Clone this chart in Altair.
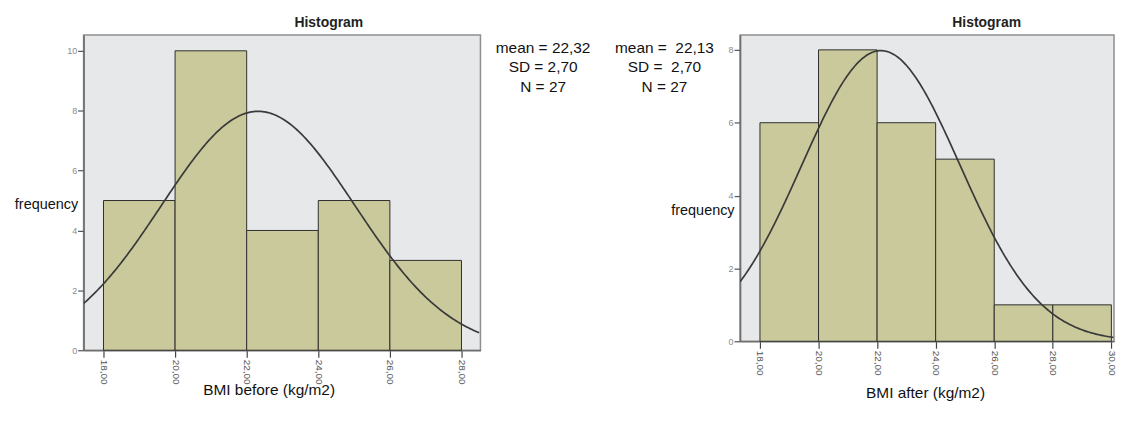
import altair as alt
import pandas as pd

FONT = "Liberation Sans"

# ---- data ----
bin_width = 2
left_bin_start = [18, 20, 22, 24, 26]
left_counts = [5, 10, 4, 5, 3]
right_bin_start = [18, 20, 22, 24, 26, 28]
right_counts = [6, 8, 6, 5, 1, 1]

left_mean, left_sd, left_n = 22.32, 2.70, 27
right_mean, right_sd, right_n = 22.13, 2.70, 27

left_stat_lines = ["mean = 22,32", "SD = 2,70", "N = 27"]
right_stat_lines = ["mean =\u00a0 22,13", "SD =\u00a0 2,70", "N = 27"]

left_x_ticks = [18, 20, 22, 24, 26, 28]
right_x_ticks = [18, 20, 22, 24, 26, 28, 30]
left_y_ticks = [0, 2, 4, 6, 8, 10]
right_y_ticks = [0, 2, 4, 6, 8]

left_x_domain = [17.444, 28.53]
right_x_domain = [17.32, 30.09]
left_y_domain = [0, 10.53]
right_y_domain = [0, 8.41]

BAR_FILL = "#C9C99B"
BAR_STROKE = "#2e2e2e"
BG = "#E7E8EA"


def panel(bin_start, counts, mean, sd, n, xdom, ydom, xticks, yticks,
          width, height, xtitle, title_dx, ytitle_y, xtitle_x, xtitle_y,
          stat_lines, stat_x, stat_y):
    df = pd.DataFrame({"start": bin_start, "count": counts})
    df["end"] = df["start"] + bin_width

    xscale = alt.Scale(domain=xdom, nice=False, zero=False)
    yscale = alt.Scale(domain=ydom, nice=False)

    xaxis = alt.Axis(
        values=xticks, title=xtitle, grid=False,
        labelExpr="replace(format(datum.value, '.2f'), '.', ',')",
        labelAngle=90, labelAlign="left", labelBaseline="middle",
        labelFontSize=10, labelColor="#555", labelFont=FONT, labelPadding=2,
        tickSize=7, tickColor="#444", tickWidth=1.2,
        domainColor="#6e6e6e", domainWidth=1.6,
        titleFont=FONT, titleFontSize=15.5, titleFontWeight="normal",
        titleColor="#111", titleX=xtitle_x, titleY=xtitle_y,
        titleAlign="center", titleBaseline="middle", titleAnchor="start",
    )
    yaxis = alt.Axis(
        values=yticks, title="frequency", grid=False, format="d",
        labelFontSize=9, labelColor="#8a8a8a", labelFont=FONT, labelPadding=1,
        tickSize=6, tickColor="#555", tickWidth=1.2,
        domainColor="#6e6e6e", domainWidth=1.6,
        titleFont=FONT, titleFontSize=14.5, titleFontWeight="normal",
        titleColor="#111", titleAngle=0, titleAlign="right",
        titleBaseline="middle", titleX=-6, titleY=ytitle_y,
    )

    bars = alt.Chart(df).mark_rect(
        fill=BAR_FILL, stroke=BAR_STROKE, strokeWidth=1
    ).encode(
        x=alt.X("start:Q", scale=xscale, axis=xaxis),
        x2="end:Q",
        y=alt.Y("count:Q", scale=yscale, axis=yaxis),
        y2=alt.datum(0),
    )

    curve = alt.Chart(
        alt.sequence(xdom[0], xdom[1] + 0.01, 0.05, as_="v")
    ).transform_calculate(
        f=f"{n * bin_width}/({sd}*sqrt(2*PI))*exp(-0.5*pow((datum.v-{mean})/{sd},2))"
    ).mark_line(
        color="#3a3a3a", strokeWidth=1.7, clip=True
    ).encode(
        x=alt.X("v:Q", scale=xscale),
        y=alt.Y("f:Q", scale=yscale),
    )

    stats = alt.Chart(pd.DataFrame({"a": [0]})).mark_text(
        font=FONT, fontSize=15.5, lineHeight=19.5, color="#111",
        align="center", baseline="middle",
    ).encode(
        text=alt.value(stat_lines),
        x=alt.value(stat_x),
        y=alt.value(stat_y),
    )

    return alt.layer(bars, curve, stats).properties(
        width=width, height=height,
        view=alt.ViewBackground(fill=BG, stroke="#8e8e8e", strokeWidth=1.5),
        title=alt.TitleParams(
            "Histogram", font=FONT, fontSize=14, fontWeight="bold",
            color="#222", dx=title_dx, offset=5, frame="group", anchor="middle",
        ),
    )


left = panel(left_bin_start, left_counts, left_mean, left_sd, left_n,
             left_x_domain, left_y_domain, left_x_ticks, left_y_ticks,
             399, 317, "BMI before (kg/m2)", 47, 170, 186, 40,
             left_stat_lines, 462, 13)

right = panel(right_bin_start, right_counts, right_mean, right_sd, right_n,
              right_x_domain, right_y_domain, right_x_ticks, right_y_ticks,
              376, 308, "BMI after (kg/m2)", 60, 177, 186, 52,
              right_stat_lines, -76, 13)

chart = alt.hconcat(left, right, spacing=261, bounds="flush").properties(
    padding={"left": 5, "top": 6, "right": 0, "bottom": 5}
).configure_view(
    fill=BG, stroke="#8e8e8e", strokeWidth=1.5
).configure(background="white")

chart.save("out.html", embed_options={"renderer": "svg", "actions": False})
